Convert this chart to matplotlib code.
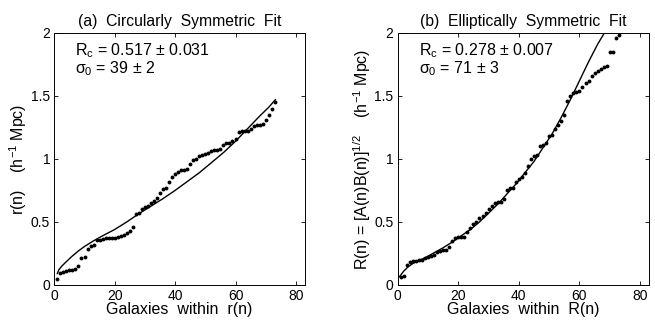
import matplotlib
matplotlib.use("Agg")
import matplotlib.pyplot as plt

plt.rcParams['font.family'] = ['Liberation Sans', 'DejaVu Sans']
plt.rcParams['mathtext.fontset'] = 'custom'
plt.rcParams['mathtext.rm'] = 'Liberation Sans'
plt.rcParams['mathtext.it'] = 'Liberation Sans'
plt.rcParams['mathtext.sf'] = 'Liberation Sans'

# ---- data: panel (a) ----
n_a = list(range(1, 74))
r_a = [0.05, 0.098, 0.10, 0.11, 0.115, 0.12, 0.125, 0.15, 0.21, 0.225,
       0.285, 0.31, 0.32, 0.36, 0.36, 0.365, 0.37, 0.37, 0.37, 0.37,
       0.38, 0.39, 0.40, 0.41, 0.43, 0.46, 0.56, 0.57, 0.60, 0.62,
       0.63, 0.65, 0.67, 0.69, 0.73, 0.76, 0.77, 0.82, 0.86, 0.88,
       0.90, 0.91, 0.91, 0.92, 0.96, 0.99, 1.00, 1.02, 1.03, 1.04,
       1.05, 1.06, 1.07, 1.07, 1.08, 1.11, 1.13, 1.13, 1.14, 1.16,
       1.21, 1.22, 1.22, 1.22, 1.24, 1.26, 1.27, 1.27, 1.28, 1.31,
       1.35, 1.40, 1.45]
fit_n_a = [1.0, 1.5, 2.5, 4, 6, 8, 10, 13, 16, 20, 24, 28, 32, 36, 40,
           44, 48, 52, 56, 60, 62, 64, 68, 71, 73.2]
fit_r_a = [0.09, 0.12, 0.15, 0.185, 0.23, 0.27, 0.305, 0.35, 0.39, 0.44,
           0.50, 0.565, 0.625, 0.685, 0.75, 0.82, 0.89, 0.97, 1.05, 1.14,
           1.19, 1.24, 1.34, 1.41, 1.47]

# ---- data: panel (b) ----
n_b = list(range(1, 74))
r_b = [0.06, 0.07, 0.16, 0.185, 0.19, 0.19, 0.20, 0.20, 0.21, 0.22,
       0.23, 0.24, 0.26, 0.27, 0.28, 0.28, 0.30, 0.35, 0.37, 0.38,
       0.38, 0.38, 0.42, 0.45, 0.48, 0.50, 0.53, 0.55, 0.57, 0.60,
       0.63, 0.65, 0.66, 0.66, 0.68, 0.75, 0.77, 0.77, 0.82, 0.84,
       0.86, 0.89, 0.94, 1.00, 1.02, 1.03, 1.10, 1.11, 1.13, 1.18,
       1.19, 1.24, 1.27, 1.30, 1.35, 1.46, 1.50, 1.52, 1.53, 1.54,
       1.57, 1.60, 1.62, 1.66, 1.68, 1.70, 1.71, 1.73, 1.74, 1.85,
       1.85, 1.96, 1.98]
fit_n_b = [0.6, 2, 3.5, 5, 7, 9, 12, 15, 18, 21, 24, 27, 30, 33, 36, 39,
           42, 45, 48, 51, 54, 57, 60, 63, 66, 69.5]
fit_r_b = [0.066, 0.11, 0.145, 0.17, 0.195, 0.215, 0.255, 0.295, 0.34,
           0.39, 0.44, 0.50, 0.57, 0.64, 0.72, 0.80, 0.89, 0.98, 1.09,
           1.20, 1.33, 1.47, 1.62, 1.77, 1.91, 2.05]

xticks = [0, 20, 40, 60, 80]
yticks = [0, 0.5, 1, 1.5, 2]
yticklabels = ['0', '0.5', '1', '1.5', '2']

fig = plt.figure(figsize=(6.55, 3.26), dpi=100)
ax1 = fig.add_axes([0.0829, 0.126, 0.3827, 0.773])
ax2 = fig.add_axes([0.6072, 0.126, 0.3838, 0.773])

panels = [
    (ax1, n_a, r_a, fit_n_a, fit_r_a, '(a)  Circularly  Symmetric  Fit',
     'Galaxies  within  r(n)', r'r(n)    (h$^{-1}$ Mpc)',
     r'R$_{\rm c}$ = 0.517 $\pm$ 0.031', r'$\sigma_0$ = 39 $\pm$ 2'),
    (ax2, n_b, r_b, fit_n_b, fit_r_b, '(b)  Elliptically  Symmetric  Fit',
     'Galaxies  within  R(n)', r'R(n) = [A(n)B(n)]$^{1/2}$    (h$^{-1}$ Mpc)',
     r'R$_{\rm c}$ = 0.278 $\pm$ 0.007', r'$\sigma_0$ = 71 $\pm$ 3'),
]

for ax, n, r, fn, fr, title, xl, yl, t1, t2 in panels:
    ax.plot(n, r, 'o', color='black', markersize=2.8, markeredgewidth=0)
    ax.plot(fn, fr, '-', color='black', linewidth=1.0)
    ax.set_xlim(0, 83)
    ax.set_ylim(0, 2)
    ax.set_xticks(xticks)
    ax.set_yticks(yticks)
    ax.set_yticklabels(yticklabels)
    ax.tick_params(direction='in', top=True, right=True, labelsize=10,
                   length=3, width=0.6, pad=3)
    for s in ax.spines.values():
        s.set_linewidth(0.7)
    ax.set_title(title, fontsize=11.3, pad=5)
    ax.set_xlabel(xl, fontsize=11.5, labelpad=-1)
    ax.set_ylabel(yl, fontsize=11.5, labelpad=1)
    ax.text(7, 1.86, t1, fontsize=11.5, va='center', ha='left')
    ax.text(7, 1.72, t2, fontsize=11.5, va='center', ha='left')

fig.savefig('out.png', dpi=100)
